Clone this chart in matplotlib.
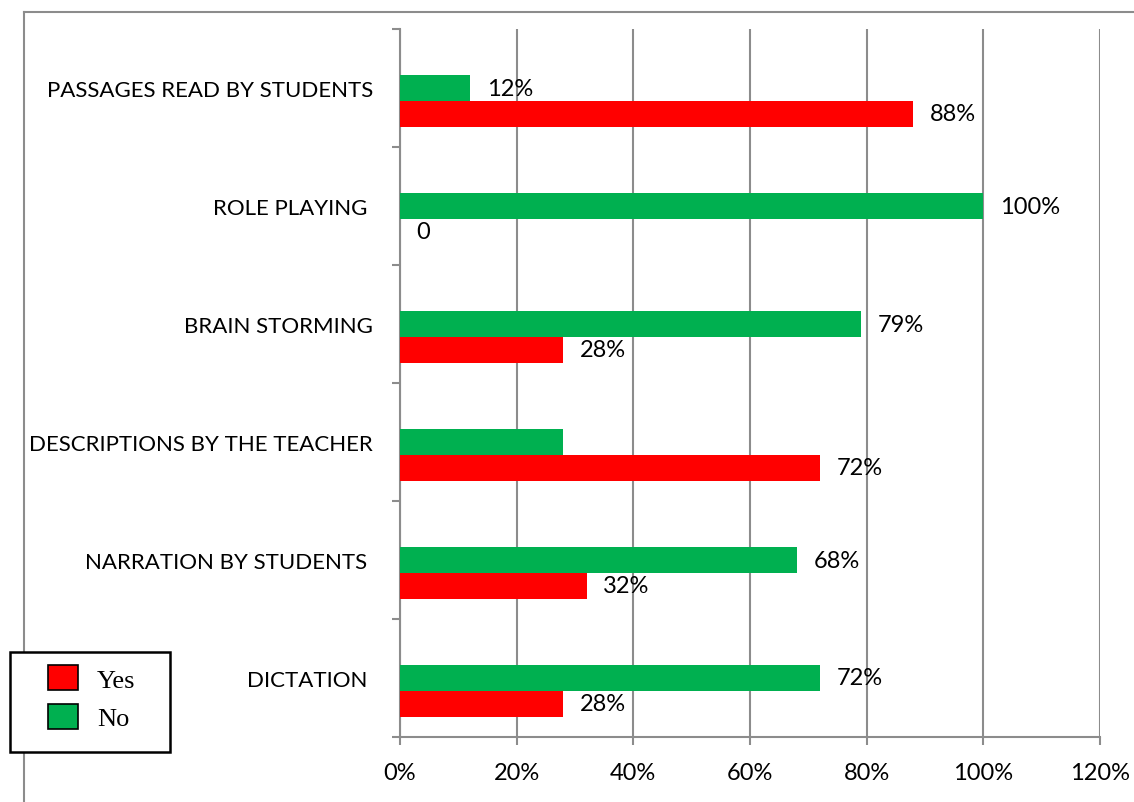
import matplotlib.pyplot as plt
from matplotlib.lines import Line2D
from matplotlib.patches import Patch, Rectangle
import numpy as np

categories = ["DICTATION ", "NARRATION BY STUDENTS ", "DESCRIPTIONS BY THE TEACHER",
              "BRAIN STORMING", "ROLE PLAYING ", "PASSAGES READ BY STUDENTS"]
yes_vals = [28, 32, 72, 28, 0, 88]
no_vals = [72, 68, 28, 79, 100, 12]
yes_labels = ["28%", "32%", "72%", "28%", "0", "88%"]
no_labels = ["72%", "68%", "", "79%", "100%", "12%"]
xticks = [0, 20, 40, 60, 80, 100, 120]

red = "#ff0000"
green = "#00b050"
grid_c = "#8c8c8c"
W, H = 1134, 803

plt.rcParams["font.family"] = ["Lato", "DejaVu Sans"]

fig = plt.figure(figsize=(W / 100, H / 100), dpi=100)
ax = fig.add_axes([400 / W, 1 - 738 / H, 700 / W, 708 / H])

y = np.arange(len(categories))
h = 0.22
ax.barh(y, no_vals, height=h, color=green, zorder=3)
ax.barh(y - h, yes_vals, height=h, color=red, zorder=3)

for i in range(len(categories)):
    if no_labels[i]:
        ax.annotate(no_labels[i], (no_vals[i], y[i]), xytext=(12, 0),
                    textcoords="offset points", va="center", ha="left", fontsize=17)
    if yes_labels[i]:
        ax.annotate(yes_labels[i], (yes_vals[i], y[i] - h), xytext=(12, 0),
                    textcoords="offset points", va="center", ha="left", fontsize=17)

ax.set_xlim(0, 120)
ax.set_ylim(-0.5, len(categories) - 0.5)
ax.set_xticks(xticks)
ax.set_xticklabels([f"{t}%" for t in xticks], fontsize=17)
ax.set_yticks(y)
ax.set_yticklabels(categories, fontsize=16)
ax.set_yticks(np.arange(len(categories) + 1) - 0.5, minor=True)
ax.tick_params(axis="y", which="major", length=0, pad=19.5)
ax.tick_params(axis="y", which="minor", length=6, color=grid_c, width=1.5)
ax.tick_params(axis="x", length=6, color=grid_c, width=1.5, pad=12)

ax.grid(axis="x", color=grid_c, linewidth=1.5, zorder=0)
for s in ["top", "right"]:
    ax.spines[s].set_visible(False)
for s in ["left", "bottom"]:
    ax.spines[s].set_color(grid_c)
    ax.spines[s].set_linewidth(1.5)

# outer frame (partly cut off)
fig.add_artist(Line2D([24 / W, 24 / W], [0, 1 - 13 / H], color=grid_c, lw=1.5))
fig.add_artist(Line2D([24 / W, 1], [1 - 13 / H, 1 - 13 / H], color=grid_c, lw=1.5))

# legend box
fig.add_artist(Rectangle((10 / W, 1 - 753 / H), 160 / W, 100 / H, transform=fig.transFigure,
                         facecolor="white", edgecolor="black", lw=1.8, zorder=5))
handles = [Patch(facecolor=red, edgecolor="black", linewidth=1.2, label="Yes"),
           Patch(facecolor=green, edgecolor="black", linewidth=1.2, label="No")]
leg = fig.legend(handles=handles, loc="upper left", bbox_to_anchor=(48 / W, 1 - 666 / H),
                 prop={"family": "Liberation Serif", "size": 19}, frameon=False,
                 handlelength=1.15, handleheight=1.1, borderpad=0, labelspacing=0.45,
                 handletextpad=0.7, borderaxespad=0)
leg.set_zorder(6)

fig.savefig("out.png", dpi=100)
